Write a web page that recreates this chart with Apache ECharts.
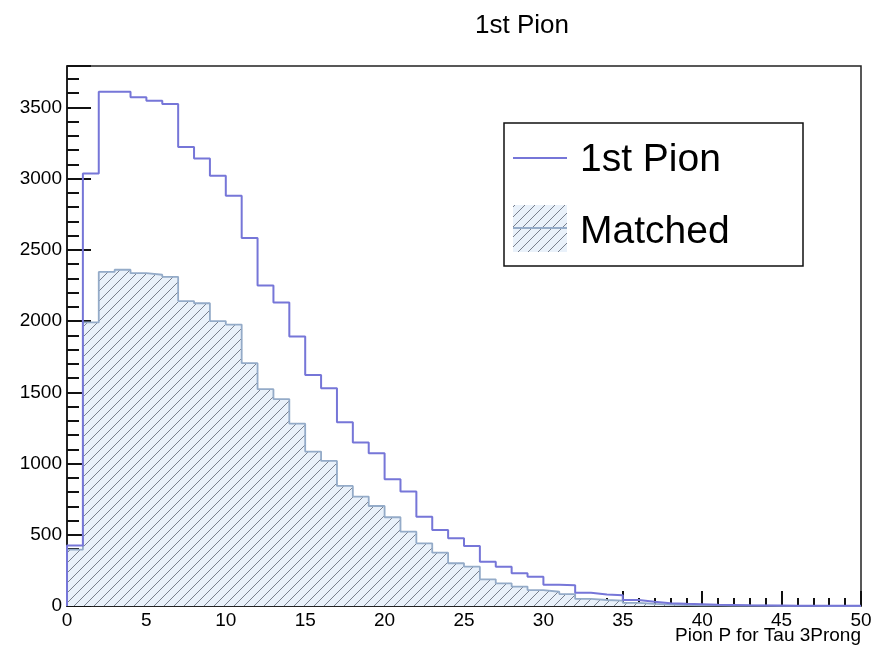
<!DOCTYPE html>
<html>
<head>
<meta charset="utf-8">
<script src="https://cdn.jsdelivr.net/npm/echarts@6/dist/echarts.min.js"></script>
<style>
html,body{margin:0;padding:0;background:#fff;}
#c{width:875px;height:653px;}
</style>
</head>
<body>
<div id="c"></div>
<script>
// Bin lower edges (bin width 1, range 0-50)
const binLow = [0,1,2,3,4,5,6,7,8,9,10,11,12,13,14,15,16,17,18,19,20,21,22,23,24,25,26,27,28,29,30,31,32,33,34,35,36,37,38,39,40,41,42,43,44,45,46,47,48,49];
const binWidth = 1;
const pionCounts = [425,3036,3610,3610,3570,3546,3523,3221,3141,3020,2879,2582,2249,2130,1891,1622,1529,1290,1148,1072,890,803,627,534,475,421,311,276,229,206,150,145,93,80,75,42,30,20,15,12,9,7,5,4,3,2,2,1,1,1];
const matchedCounts = [395,1990,2345,2360,2336,2325,2310,2140,2125,2000,1975,1704,1522,1452,1280,1084,1018,843,768,702,623,522,440,374,300,276,187,159,136,112,100,84,50,42,38,22,15,10,7,5,4,3,2,2,1,1,1,0,0,0];
const xMajorTicks = [0,5,10,15,20,25,30,35,40,45,50];
const yMajorTicks = [0,500,1000,1500,2000,2500,3000,3500];
const titleText = '1st Pion';
const xTitle = 'Pion P for Tau 3Prong';
const legendNames = ['1st Pion','Matched'];

const pionColor = '#7676d8';
const matchedLine = '#94abc8';

function histPoints(counts){
  const pts = [[binLow[0],0]];
  for (let i=0;i<counts.length;i++) pts.push([binLow[i],counts[i]]);
  const last = binLow[binLow.length-1]+binWidth;
  pts.push([last,counts[counts.length-1]]);
  pts.push([last,0]);
  return pts;
}

// hatch pattern
const pc = document.createElement('canvas');
pc.width = 10; pc.height = 10;
const ctx = pc.getContext('2d');
ctx.fillStyle = '#e9f1fa';
ctx.fillRect(0,0,10,10);
ctx.strokeStyle = '#5b6270';
ctx.lineWidth = 0.8;
ctx.beginPath();
ctx.moveTo(0,10); ctx.lineTo(10,0);
ctx.moveTo(-1,1); ctx.lineTo(1,-1);
ctx.moveTo(9,11); ctx.lineTo(11,9);
ctx.stroke();
const hatch = {image: pc, repeat: 'repeat'};

const yMax = 3790;
const font = 'Liberation Sans, Arial, Helvetica, sans-serif';
const tickStyle = {color:'#111', width:2};

const chart = echarts.init(document.getElementById('c'), null, {renderer:'canvas'});
chart.setOption({
  animation:false,
  backgroundColor:'#fff',
  title:{text:titleText, left:470, top:8, textStyle:{fontFamily:font, fontSize:26, fontWeight:'normal', color:'#000'}},
  grid:{left:67, right:14, top:66, bottom:47, show:true, borderColor:'#222', borderWidth:1.5, backgroundColor:'transparent'},
  xAxis:[
    {type:'value', min:0, max:50, interval:1, position:'bottom',
     axisLine:{show:true, lineStyle:{color:'#111', width:1.5}},
     axisTick:{show:true, inside:true, length:8, lineStyle:tickStyle},
     axisLabel:{show:false}, splitLine:{show:false}},
    {type:'value', min:0, max:50, interval:5, position:'bottom',
     axisLine:{show:false},
     axisTick:{show:true, inside:true, length:15, lineStyle:tickStyle},
     axisLabel:{show:true, margin:5, fontFamily:font, fontSize:19, color:'#000',
       formatter:v=> xMajorTicks.indexOf(v)>=0 ? String(v) : ''},
     splitLine:{show:false}}
  ],
  yAxis:[
    {type:'value', min:0, max:yMax, interval:100, position:'left',
     axisLine:{show:true, lineStyle:{color:'#111', width:1.5}},
     axisTick:{show:true, inside:true, length:12, lineStyle:tickStyle},
     axisLabel:{show:false}, splitLine:{show:false}},
    {type:'value', min:0, max:yMax, interval:500, position:'left',
     axisLine:{show:false},
     axisTick:{show:true, inside:true, length:24, lineStyle:tickStyle},
     axisLabel:{show:true, margin:5, fontFamily:font, fontSize:19, color:'#000',
       formatter:v=> yMajorTicks.indexOf(v)>=0 ? String(v) : ''},
     splitLine:{show:false}}
  ],
  series:[
    {name:legendNames[1], type:'line', xAxisIndex:0, yAxisIndex:0, step:'end', symbol:'none',
     data:histPoints(matchedCounts), lineStyle:{color:matchedLine, width:1.8},
     areaStyle:{color:hatch, opacity:1}, z:2},
    {name:legendNames[0], type:'line', xAxisIndex:0, yAxisIndex:0, step:'end', symbol:'none',
     data:histPoints(pionCounts), lineStyle:{color:pionColor, width:2}, z:3}
  ],
  graphic:[
    {type:'text', right:14, top:626, style:{text:xTitle, fontFamily:font, fontSize:19, fill:'#000', textAlign:'right'}, z:10},
    {type:'rect', shape:{x:504, y:123, width:299, height:143}, style:{fill:'#fff', stroke:'#111', lineWidth:1.5}, z:10},
    {type:'line', shape:{x1:513, y1:158, x2:567, y2:158}, style:{stroke:pionColor, lineWidth:2}, z:11},
    {type:'rect', shape:{x:513, y:205, width:54, height:47}, style:{fill:hatch}, z:11},
    {type:'line', shape:{x1:513, y1:228, x2:567, y2:228}, style:{stroke:matchedLine, lineWidth:2}, z:12},
    {type:'text', x:580, y:160, style:{text:legendNames[0], fontFamily:font, fontSize:39, fill:'#000', textVerticalAlign:'middle', verticalAlign:'middle'}, z:12},
    {type:'text', x:580, y:232, style:{text:legendNames[1], fontFamily:font, fontSize:39, fill:'#000', textVerticalAlign:'middle', verticalAlign:'middle'}, z:12}
  ]
});
</script>
</body>
</html>
